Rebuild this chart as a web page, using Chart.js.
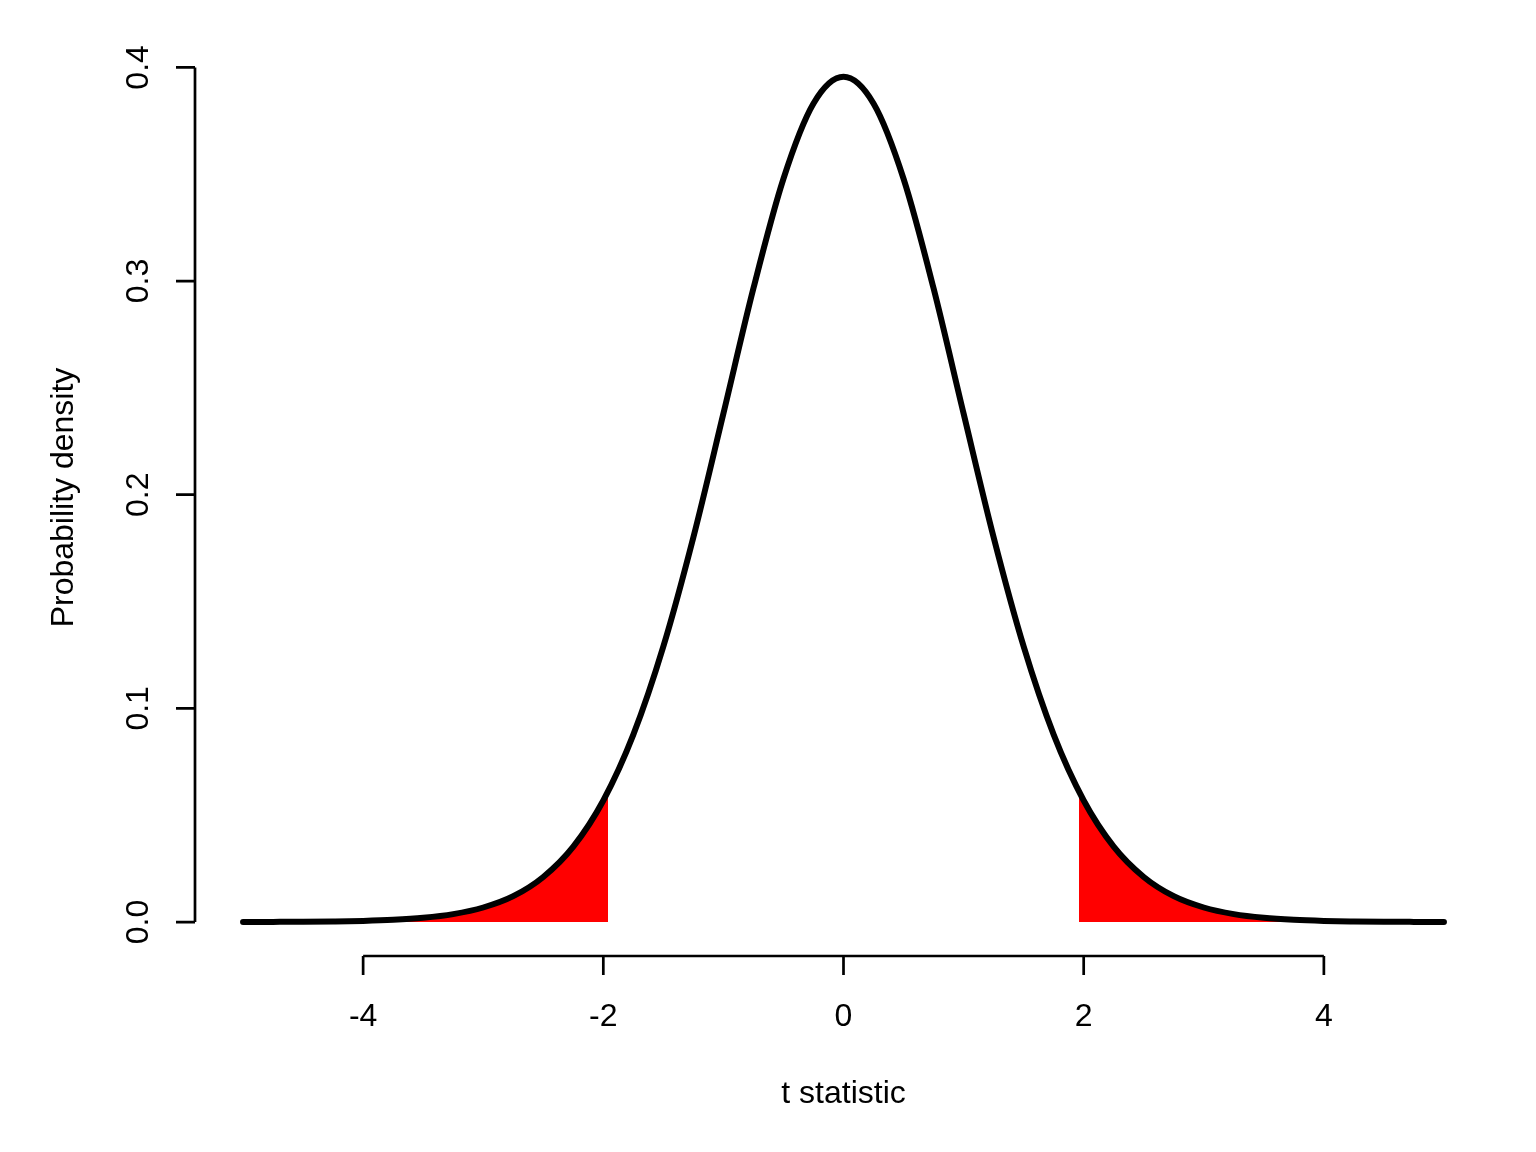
<!DOCTYPE html>
<html>
<head>
  <title>t distribution</title>
  <style>
    html, body {
      margin: 0;
      padding: 0;
      background: #fff;
    }
    #chartBox {
      width: 1536px;
      height: 1152px;
    }
  </style>
</head>
<body>
  <div id="chartBox"><canvas id="chart"></canvas></div>

  <script src="https://cdn.jsdelivr.net/npm/chart.js@4.4.1/dist/chart.umd.min.js"></script>

  <script>
    // density curve
    const tValues = [-5, -4.75, -4.5, -4.25, -4, -3.75, -3.5, -3.25, -3, -2.75, -2.5, -2.25, -2, -1.75, -1.5, -1.25, -1, -0.75, -0.5, -0.25,
      0, 0.25, 0.5, 0.75, 1, 1.25, 1.5, 1.75, 2, 2.25, 2.5, 2.75, 3, 3.25, 3.5, 3.75, 4, 4.25, 4.5, 4.75, 5];
    const density = [0.00003, 0.00007, 0.00013, 0.00027, 0.00052, 0.00102, 0.00196, 0.00369, 0.0068, 0.0121, 0.0211, 0.0353, 0.0569, 0.0877, 0.129, 0.1801, 0.238, 0.2966, 0.3479, 0.3831,
      0.3956, 0.3831, 0.3479, 0.2966, 0.238, 0.1801, 0.129, 0.0877, 0.0569, 0.0353, 0.0211, 0.0121, 0.0068, 0.00369, 0.00196, 0.00102, 0.00052, 0.00027, 0.00013, 0.00007, 0.00003];

    // shaded tails beyond the critical value
    const leftTailT = [-5, -4.75, -4.5, -4.25, -4, -3.75, -3.5, -3.25, -3, -2.75, -2.5, -2.25, -2, -1.96];
    const leftTailD = [0.00003, 0.00007, 0.00013, 0.00027, 0.00052, 0.00102, 0.00196, 0.00369, 0.0068, 0.0121, 0.0211, 0.0353, 0.0569, 0.0598];
    const rightTailT = [1.96, 2, 2.25, 2.5, 2.75, 3, 3.25, 3.5, 3.75, 4, 4.25, 4.5, 4.75, 5];
    const rightTailD = [0.0598, 0.0569, 0.0353, 0.0211, 0.0121, 0.0068, 0.00369, 0.00196, 0.00102, 0.00052, 0.00027, 0.00013, 0.00007, 0.00003];

    const xTicks = [-4, -2, 0, 2, 4];
    const xTickLabels = ['-4', '-2', '0', '2', '4'];
    const yTicks = [0, 0.1, 0.2, 0.3, 0.4];
    const yTickLabels = ['0.0', '0.1', '0.2', '0.3', '0.4'];
    const xTitle = 't statistic';
    const yTitle = 'Probability density';

    const toPoints = (xs, ys) => xs.map((x, i) => ({ x: x, y: ys[i] }));

    const FONT = '32px "Liberation Sans", Arial, sans-serif';

    // R style axes: line only across the tick range, ticks outward
    const rAxes = {
      id: 'rAxes',
      afterDraw(chart) {
        const ctx = chart.ctx;
        const xs = chart.scales.x;
        const ys = chart.scales.y;
        const area = chart.chartArea;
        const tick = 19;
        ctx.save();
        ctx.strokeStyle = '#000';
        ctx.fillStyle = '#000';
        ctx.lineWidth = 2.7;
        ctx.font = FONT;

        // x axis
        const xb = area.bottom;
        ctx.beginPath();
        ctx.moveTo(xs.getPixelForValue(xTicks[0]), xb);
        ctx.lineTo(xs.getPixelForValue(xTicks[xTicks.length - 1]), xb);
        xTicks.forEach(v => {
          const px = xs.getPixelForValue(v);
          ctx.moveTo(px, xb);
          ctx.lineTo(px, xb + tick);
        });
        ctx.stroke();
        ctx.textAlign = 'center';
        ctx.textBaseline = 'alphabetic';
        xTicks.forEach((v, i) => {
          ctx.fillText(xTickLabels[i], xs.getPixelForValue(v), xb + 70);
        });
        ctx.fillText(xTitle, (xs.getPixelForValue(-5.4) + xs.getPixelForValue(5.4)) / 2, xb + 147);

        // y axis
        const yl = area.left;
        ctx.beginPath();
        ctx.moveTo(yl, ys.getPixelForValue(yTicks[0]));
        ctx.lineTo(yl, ys.getPixelForValue(yTicks[yTicks.length - 1]));
        yTicks.forEach(v => {
          const py = ys.getPixelForValue(v);
          ctx.moveTo(yl, py);
          ctx.lineTo(yl - tick, py);
        });
        ctx.stroke();
        yTicks.forEach((v, i) => {
          ctx.save();
          ctx.translate(yl - 47, ys.getPixelForValue(v));
          ctx.rotate(-Math.PI / 2);
          ctx.textAlign = 'center';
          ctx.fillText(yTickLabels[i], 0, 0);
          ctx.restore();
        });
        ctx.save();
        ctx.translate(yl - 122, (area.top + area.bottom) / 2);
        ctx.rotate(-Math.PI / 2);
        ctx.textAlign = 'center';
        ctx.fillText(yTitle, 0, 0);
        ctx.restore();

        ctx.restore();
      }
    };

    new Chart(document.getElementById('chart'), {
      type: 'scatter',
      data: {
        datasets: [
          {
            label: 'density',
            data: toPoints(tValues, density),
            showLine: true,
            borderColor: '#000',
            borderWidth: 6,
            borderCapStyle: 'round',
            borderJoinStyle: 'round',
            pointRadius: 0,
            cubicInterpolationMode: 'monotone',
            fill: false,
            order: 0
          },
          {
            label: 'lower tail',
            data: toPoints(leftTailT, leftTailD),
            showLine: true,
            borderWidth: 0,
            borderColor: 'rgba(0,0,0,0)',
            backgroundColor: '#ff0000',
            pointRadius: 0,
            cubicInterpolationMode: 'monotone',
            fill: 'origin',
            order: 1
          },
          {
            label: 'upper tail',
            data: toPoints(rightTailT, rightTailD),
            showLine: true,
            borderWidth: 0,
            borderColor: 'rgba(0,0,0,0)',
            backgroundColor: '#ff0000',
            pointRadius: 0,
            cubicInterpolationMode: 'monotone',
            fill: 'origin',
            order: 1
          }
        ]
      },
      options: {
        responsive: true,
        maintainAspectRatio: false,
        animation: false,
        layout: {
          padding: { left: 195, right: 44, top: 39, bottom: 196 }
        },
        plugins: {
          legend: { display: false },
          tooltip: { enabled: false }
        },
        scales: {
          x: { type: 'linear', min: -5.4, max: 5.4, display: false },
          y: { type: 'linear', min: -0.0159, max: 0.4133, display: false }
        }
      },
      plugins: [rAxes]
    });
  </script>
</body>
</html>
